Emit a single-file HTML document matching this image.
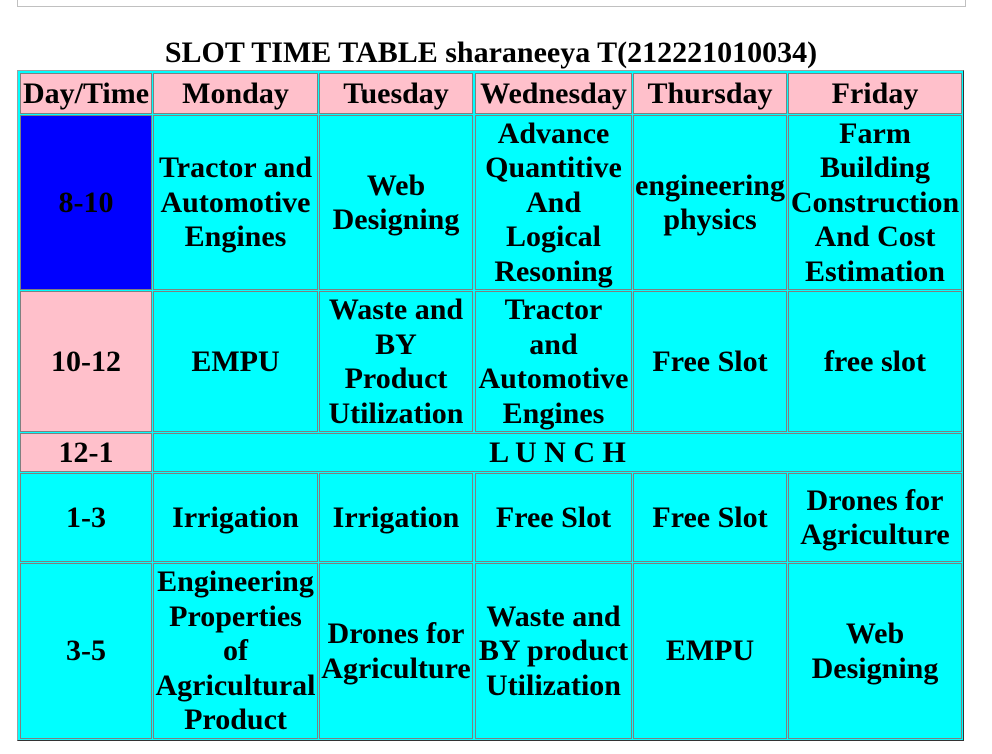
<!DOCTYPE html>
<html><head><meta charset="utf-8"><style>
body{margin:0;width:992px;height:754px;background:#fff;position:relative;overflow:hidden;font-family:"Liberation Serif",serif;}
#topbox{position:absolute;left:17px;top:-10px;width:947px;height:15px;border:1px solid #c0c0c0;}
#title{position:absolute;left:0;width:982px;top:36px;text-align:center;font-weight:bold;font-size:30px;line-height:34px;}
#tbl{position:absolute;left:17px;top:70px;width:945px;height:669px;background:#0ff;border:1px solid;border-color:#a0a0a0 #333 #333 #a0a0a0;}
.c{position:absolute;box-sizing:border-box;border:1px solid #808080;display:flex;align-items:center;justify-content:center;text-align:center;font-weight:bold;font-size:30px;line-height:34.5px;background:#0ff;padding-top:1px;}
.h{background:#ffc0cb;}
</style></head><body>
<div id="topbox"></div>
<div id="title">SLOT TIME TABLE sharaneeya T(212221010034)</div>
<div id="tbl"></div>
<script>
const cols=[[20,151],[153,317],[319,472],[475,631],[633,786],[788,961]];
const rows=[[73,113],[115,289],[291,431],[433,471],[473,561],[563,738]];
const cells=[
[0,0,1,"Day/Time","h"],[0,1,1,"Monday","h"],[0,2,1,"Tuesday","h"],[0,3,1,"Wednesday","h"],[0,4,1,"Thursday","h"],[0,5,1,"Friday","h"],
[1,0,1,"8-10","b"],[1,1,1,"Tractor and Automotive Engines"],[1,2,1,"Web Designing"],[1,3,1,"Advance Quantitive And Logical Resoning"],[1,4,1,"engineering physics"],[1,5,1,"Farm Building Construction And Cost Estimation"],
[2,0,1,"10-12","h"],[2,1,1,"EMPU"],[2,2,1,"Waste and|BY|Product|Utilization"],[2,3,1,"Tractor|and|Automotive|Engines"],[2,4,1,"Free Slot"],[2,5,1,"free slot"],
[3,0,1,"12-1","h"],[3,1,5,"L U N C H"],
[4,0,1,"1-3"],[4,1,1,"Irrigation"],[4,2,1,"Irrigation"],[4,3,1,"Free Slot"],[4,4,1,"Free Slot"],[4,5,1,"Drones for Agriculture"],
[5,0,1,"3-5"],[5,1,1,"Engineering Properties of Agricultural Product"],[5,2,1,"Drones for Agriculture"],[5,3,1,"Waste and BY product Utilization"],[5,4,1,"EMPU"],[5,5,1,"Web Designing"]
];
cells.forEach(([r,c,span,t,k])=>{
const d=document.createElement('div');
d.className='c'+(k==='h'?' h':'');
const x0=cols[c][0],x1=cols[c+span-1][1];
d.style.left=x0+'px';d.style.top=rows[r][0]+'px';
d.style.width=(x1-x0+1)+'px';d.style.height=(rows[r][1]-rows[r][0]+1)+'px';
if(k==='b')d.style.background='#0000ff';
const s=document.createElement('span');
t.split('|').forEach((p,i)=>{if(i)s.appendChild(document.createElement('br'));s.appendChild(document.createTextNode(p));});
d.appendChild(s);


document.body.appendChild(d);
});
</script>
</body></html>
